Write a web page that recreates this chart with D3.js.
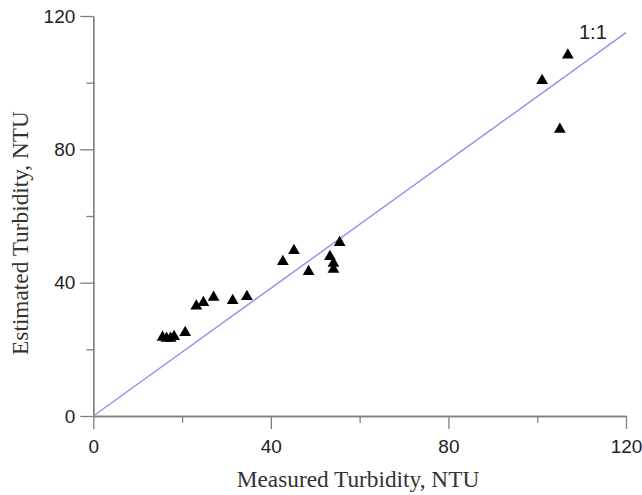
<!DOCTYPE html>
<html>
<head>
<meta charset="utf-8">
<script src="https://cdn.jsdelivr.net/npm/d3@7"></script>
<style>
  body { margin: 0; background: #fff; }
  svg { display: block; }
  .axis path, .axis line { stroke: #808080; stroke-width: 1.3; }
  .axis text { font-family: "Liberation Sans", Arial, sans-serif; font-size: 19px; fill: #222; }
  .title { font-family: "Liberation Serif", "Times New Roman", serif; font-size: 23.3px; fill: #333; }
</style>
</head>
<body>
<div id="chart"></div>
<script>
// measured vs estimated turbidity
var measured  = [15.6, 16.5, 17.4, 18.2, 20.7, 23.2, 24.8, 27.1, 31.4, 34.6,
                 42.7, 45.2, 48.5, 53.3, 54.1, 54.1, 55.5, 101.1, 106.9, 105.1];
var estimated = [23.6, 23.3, 23.3, 23.8, 25.0, 33.0, 34.0, 35.6, 34.6, 35.8,
                 46.3, 49.6, 43.3, 47.8, 45.8, 44.0, 52.0, 100.6, 108.3, 86.0];
var majorTicks = [0, 40, 80, 120];
var minorTicks = [20, 60, 100];
var refLine = [[0, 0], [120, 115]];

var width = 642, height = 495;

var x = d3.scaleLinear().domain([0, 120]).range([93.3, 626]);
var y = d3.scaleLinear().domain([0, 120]).range([416, 16]);

var svg = d3.select("#chart").append("svg")
  .attr("width", width)
  .attr("height", height);

// x axis
svg.append("g")
  .attr("class", "axis")
  .attr("transform", "translate(0," + y(0) + ")")
  .call(d3.axisBottom(x).tickValues(majorTicks).tickSize(13).tickSizeOuter(0).tickPadding(10.5).tickFormat(d3.format("d")));
svg.append("g")
  .attr("class", "axis")
  .attr("transform", "translate(0," + y(0) + ")")
  .call(d3.axisBottom(x).tickValues(minorTicks).tickSize(7).tickSizeOuter(0).tickFormat(""));

// y axis
svg.append("g")
  .attr("class", "axis")
  .attr("transform", "translate(" + x(0) + ",0)")
  .call(d3.axisLeft(y).tickValues(majorTicks).tickSize(13).tickSizeOuter(0).tickPadding(5).tickFormat(d3.format("d")));
svg.append("g")
  .attr("class", "axis")
  .attr("transform", "translate(" + x(0) + ",0)")
  .call(d3.axisLeft(y).tickValues(minorTicks).tickSize(7).tickSizeOuter(0).tickFormat(""));

svg.selectAll(".axis .domain").attr("fill", "none");

// 1:1 line
svg.append("path")
  .datum(refLine)
  .attr("fill", "none")
  .attr("stroke", "#8f8ff2")
  .attr("stroke-width", 1.4)
  .attr("d", d3.line().x(function(d) { return x(d[0]); }).y(function(d) { return y(d[1]); }));

svg.append("text")
  .attr("x", 579)
  .attr("y", 38.5)
  .style("font-family", "Liberation Sans, Arial, sans-serif")
  .style("font-size", "20px")
  .style("fill", "#222")
  .text("1:1");

// points
var tri = d3.symbol().type(d3.symbolTriangle).size(60);
svg.selectAll(".pt")
  .data(measured)
  .enter().append("path")
  .attr("class", "pt")
  .attr("d", tri)
  .attr("fill", "#000")
  .attr("transform", function(d, i) { return "translate(" + x(d) + "," + y(estimated[i]) + ")"; });

// axis titles
svg.append("text")
  .attr("class", "title")
  .attr("x", 358)
  .attr("y", 487)
  .attr("text-anchor", "middle")
  .text("Measured Turbidity, NTU");

svg.append("text")
  .attr("class", "title")
  .attr("transform", "translate(28,233) rotate(-90)")
  .attr("text-anchor", "middle")
  .text("Estimated Turbidity, NTU");
</script>
</body>
</html>
